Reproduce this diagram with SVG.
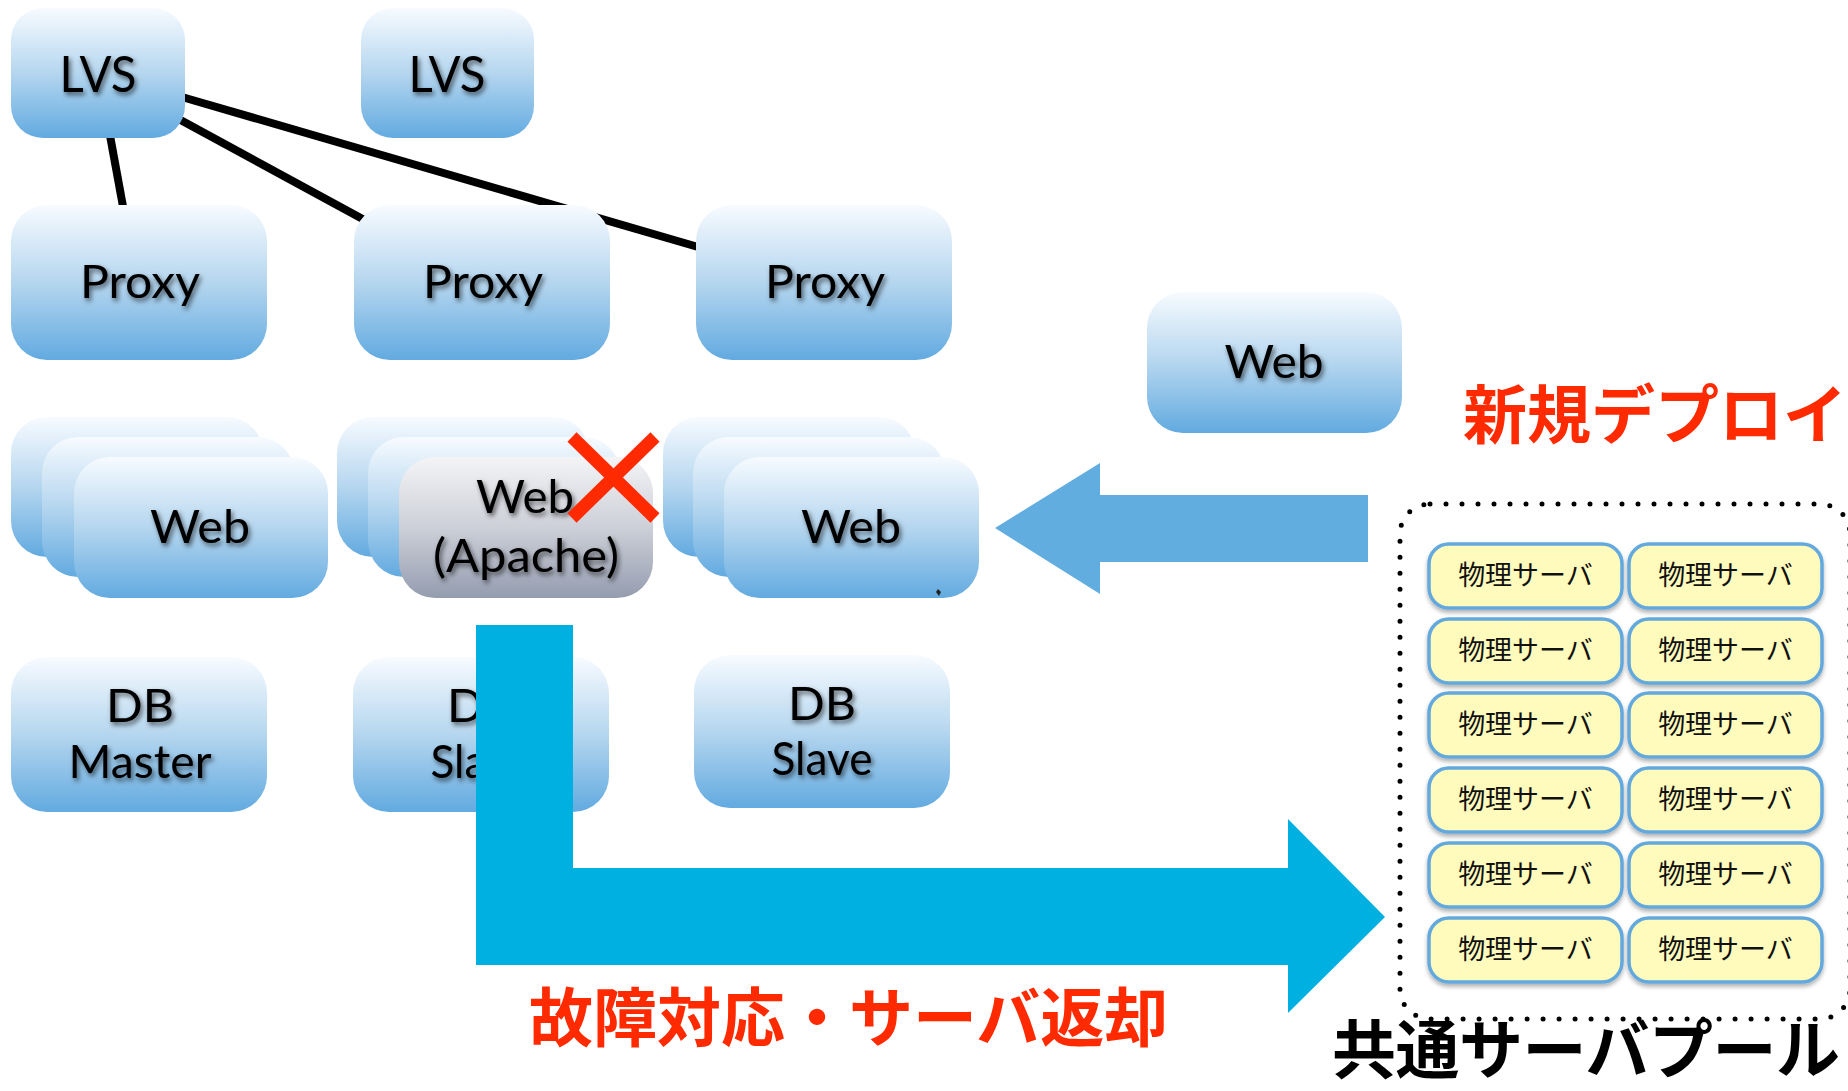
<svg xmlns="http://www.w3.org/2000/svg" width="1848" height="1091" viewBox="0 0 1848 1091">
<defs>
<linearGradient id="blue" x1="0" y1="0" x2="0" y2="1">
<stop offset="0" stop-color="#f7fbff"/>
<stop offset="0.5" stop-color="#b5d6ef"/>
<stop offset="1" stop-color="#62aae0"/>
</linearGradient>
<linearGradient id="gray" x1="0" y1="0" x2="0" y2="1">
<stop offset="0" stop-color="#f4f4f6"/>
<stop offset="0.5" stop-color="#cdd0d8"/>
<stop offset="1" stop-color="#949caf"/>
</linearGradient>
<filter id="ts" x="-20%" y="-30%" width="140%" height="170%">
<feDropShadow dx="2" dy="3" stdDeviation="2.5" flood-color="#000" flood-opacity="0.6"/>
</filter>
<filter id="sh" x="-10%" y="-20%" width="120%" height="150%">
<feDropShadow dx="0" dy="3" stdDeviation="2" flood-color="#000" flood-opacity="0.3"/>
</filter>
<style>
.box{fill:url(#blue)}
.gbox{fill:url(#gray)}
.lbl{font-family:Lato,"Liberation Sans",sans-serif;font-size:46px;text-anchor:middle;fill:#000;filter:url(#ts)}
.big{font-size:51px}
.line{stroke:#000;stroke-width:8;fill:none}
.srv rect{fill:#fefbbd;stroke:#63a9dd;stroke-width:3.5;filter:url(#sh)}
.srv text{font-family:"Noto Sans CJK JP",sans-serif;font-size:27px;text-anchor:middle;fill:#111}
.jp{font-family:"Noto Sans CJK JP",sans-serif;font-weight:700;font-size:64px}
.red{fill:#ff2a00}
</style>
</defs>
<rect width="1848" height="1091" fill="#fff"/>

<g id="connectors">
<line class="line" x1="109" y1="130" x2="124" y2="212"/>
<line class="line" x1="175" y1="117" x2="370" y2="223"/>
<line class="line" x1="175" y1="95" x2="705" y2="249"/>
</g>

<g id="lvs1"><rect class="box" x="11" y="8" width="174" height="130" rx="32"/><text class="lbl big" x="98" y="92" textLength="77" lengthAdjust="spacingAndGlyphs">LVS</text></g>
<g id="lvs2"><rect class="box" x="361" y="8" width="173" height="130" rx="32"/><text class="lbl big" x="447" y="92" textLength="77" lengthAdjust="spacingAndGlyphs">LVS</text></g>

<g id="proxy1"><rect class="box" x="11" y="205" width="256" height="155" rx="36"/><text class="lbl" x="140" y="298" textLength="120" lengthAdjust="spacingAndGlyphs">Proxy</text></g>
<g id="proxy2"><rect class="box" x="354" y="205" width="256" height="155" rx="36"/><text class="lbl" x="483" y="298" textLength="120" lengthAdjust="spacingAndGlyphs">Proxy</text></g>
<g id="proxy3"><rect class="box" x="696" y="205" width="256" height="155" rx="36"/><text class="lbl" x="825" y="298" textLength="120" lengthAdjust="spacingAndGlyphs">Proxy</text></g>

<g id="web-stack1">
<rect class="box" x="11" y="417" width="252" height="140" rx="36"/>
<rect class="box" x="42" y="437" width="252" height="140" rx="36"/>
<rect class="box" x="74" y="457" width="254" height="141" rx="36"/>
<text class="lbl" x="200" y="543" textLength="100" lengthAdjust="spacingAndGlyphs">Web</text>
</g>
<g id="web-stack2">
<rect class="box" x="337" y="417" width="252" height="140" rx="36"/>
<rect class="box" x="368" y="437" width="252" height="140" rx="36"/>
<rect class="gbox" x="399" y="457" width="254" height="141" rx="36"/>
<text class="lbl" x="525" y="513" textLength="98" lengthAdjust="spacingAndGlyphs">Web</text>
<text class="lbl" x="526" y="572" font-size="47" textLength="186" lengthAdjust="spacingAndGlyphs">(Apache)</text>
</g>
<g id="web-stack3">
<rect class="box" x="663" y="417" width="252" height="140" rx="36"/>
<rect class="box" x="693" y="437" width="252" height="140" rx="36"/>
<rect class="box" x="724" y="457" width="255" height="141" rx="36"/>
<text class="lbl" x="851" y="543" textLength="100" lengthAdjust="spacingAndGlyphs">Web</text>
<path d="M938 589 L941 592 L939 596 L936 592 Z" fill="#222"/>
</g>

<g id="fail-mark">
<line x1="572" y1="437" x2="655" y2="518" stroke="#ff2a00" stroke-width="13"/>
<line x1="655" y1="437" x2="572" y2="518" stroke="#ff2a00" stroke-width="13"/>
</g>

<g id="web-new"><rect class="box" x="1147" y="292" width="255" height="141" rx="36"/><text class="lbl" x="1274" y="378" textLength="99" lengthAdjust="spacingAndGlyphs">Web</text></g>

<g id="db-master"><rect class="box" x="11" y="657" width="256" height="155" rx="36"/><text class="lbl" x="140" y="722" textLength="68" lengthAdjust="spacingAndGlyphs">DB</text><text class="lbl" x="140" y="778" textLength="143" lengthAdjust="spacingAndGlyphs">Master</text></g>
<g id="db-slave1"><rect class="box" x="353" y="657" width="256" height="155" rx="36"/><text class="lbl" x="481" y="722" textLength="68" lengthAdjust="spacingAndGlyphs">DB</text><text class="lbl" x="481" y="778" textLength="101" lengthAdjust="spacingAndGlyphs">Slave</text></g>
<g id="db-slave2"><rect class="box" x="694" y="655" width="256" height="153" rx="36"/><text class="lbl" x="822" y="720" textLength="68" lengthAdjust="spacingAndGlyphs">DB</text><text class="lbl" x="822" y="775" textLength="101" lengthAdjust="spacingAndGlyphs">Slave</text></g>

<g id="arrows">
<polygon points="995,528 1100,463 1100,495 1368,495 1368,562 1100,562 1100,594" fill="#62ade0"/>
<polygon points="476,625 573,625 573,868 1288,868 1288,819 1385,917 1288,1013 1288,965 476,965" fill="#00b0e0"/>
</g>

<g id="pool">
<rect x="1400" y="504" width="450" height="515" rx="30" fill="none" stroke="#000" stroke-width="5" stroke-dasharray="0 16" stroke-linecap="round"/>
<g class="srv" id="srv-1-1"><rect x="1429" y="544" width="193" height="64" rx="20"/><text x="1525.5" y="585">物理サーバ</text></g>
<g class="srv" id="srv-1-2"><rect x="1629" y="544" width="193" height="64" rx="20"/><text x="1725.5" y="585">物理サーバ</text></g>
<g class="srv" id="srv-2-1"><rect x="1429" y="619" width="193" height="64" rx="20"/><text x="1525.5" y="660">物理サーバ</text></g>
<g class="srv" id="srv-2-2"><rect x="1629" y="619" width="193" height="64" rx="20"/><text x="1725.5" y="660">物理サーバ</text></g>
<g class="srv" id="srv-3-1"><rect x="1429" y="693" width="193" height="64" rx="20"/><text x="1525.5" y="734">物理サーバ</text></g>
<g class="srv" id="srv-3-2"><rect x="1629" y="693" width="193" height="64" rx="20"/><text x="1725.5" y="734">物理サーバ</text></g>
<g class="srv" id="srv-4-1"><rect x="1429" y="768" width="193" height="64" rx="20"/><text x="1525.5" y="809">物理サーバ</text></g>
<g class="srv" id="srv-4-2"><rect x="1629" y="768" width="193" height="64" rx="20"/><text x="1725.5" y="809">物理サーバ</text></g>
<g class="srv" id="srv-5-1"><rect x="1429" y="843" width="193" height="64" rx="20"/><text x="1525.5" y="884">物理サーバ</text></g>
<g class="srv" id="srv-5-2"><rect x="1629" y="843" width="193" height="64" rx="20"/><text x="1725.5" y="884">物理サーバ</text></g>
<g class="srv" id="srv-6-1"><rect x="1429" y="918" width="193" height="64" rx="20"/><text x="1525.5" y="959">物理サーバ</text></g>
<g class="srv" id="srv-6-2"><rect x="1629" y="918" width="193" height="64" rx="20"/><text x="1725.5" y="959">物理サーバ</text></g>
</g>

<text class="jp red" x="1463" y="438">新規デプロイ</text>
<text class="jp red" x="529" y="1041">故障対応・サーバ返却</text>
<text class="jp" x="1332" y="1073" font-size="60" textLength="508" lengthAdjust="spacing" fill="#000">共通サーバプール</text>
</svg>
